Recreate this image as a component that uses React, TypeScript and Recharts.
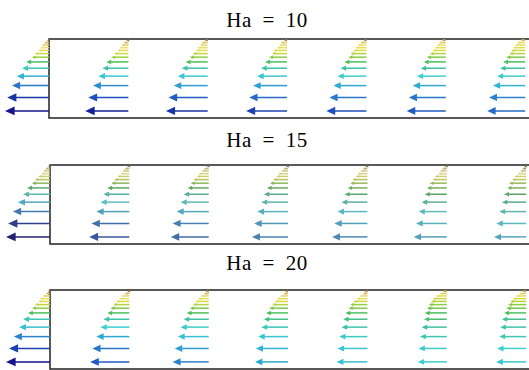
import React from 'react'
import { ScatterChart, Scatter, XAxis, YAxis, ReferenceLine, ReferenceArea } from 'recharts'

const titles = ['Ha = 10', 'Ha = 15', 'Ha = 20']
const columnX = [0, 1, 2, 3, 4, 5, 6]
// row heights across the channel, bottom row first
const rowY = [0.09, 0.26, 0.41, 0.53, 0.63, 0.71, 0.77, 0.815, 0.855, 0.89, 0.925, 0.955, 0.985]

// velocity magnitude (arrows point left), one list per column, bottom row first
const ha10 = [
    [1.00, 0.95, 0.84, 0.73, 0.61, 0.52, 0.39, 0.32, 0.25, 0.20, 0.16, 0.11, 0.05],
    [0.98, 0.91, 0.80, 0.68, 0.59, 0.50, 0.39, 0.32, 0.25, 0.20, 0.16, 0.11, 0.05],
    [0.95, 0.89, 0.77, 0.68, 0.59, 0.50, 0.41, 0.34, 0.27, 0.23, 0.18, 0.14, 0.07],
    [0.93, 0.86, 0.77, 0.68, 0.59, 0.50, 0.41, 0.34, 0.30, 0.23, 0.18, 0.14, 0.07],
    [0.91, 0.84, 0.75, 0.66, 0.59, 0.50, 0.41, 0.36, 0.30, 0.25, 0.20, 0.14, 0.07],
    [0.89, 0.84, 0.75, 0.66, 0.57, 0.50, 0.43, 0.36, 0.30, 0.25, 0.20, 0.16, 0.09],
    [0.86, 0.82, 0.73, 0.64, 0.57, 0.50, 0.43, 0.36, 0.32, 0.27, 0.23, 0.18, 0.11],
]
const ha15 = [
    [1.00, 0.95, 0.84, 0.73, 0.61, 0.52, 0.41, 0.34, 0.27, 0.20, 0.16, 0.11, 0.05],
    [0.91, 0.86, 0.75, 0.66, 0.59, 0.50, 0.41, 0.34, 0.27, 0.20, 0.16, 0.11, 0.05],
    [0.86, 0.82, 0.73, 0.64, 0.57, 0.48, 0.41, 0.34, 0.27, 0.23, 0.16, 0.11, 0.05],
    [0.82, 0.77, 0.70, 0.61, 0.55, 0.48, 0.41, 0.34, 0.27, 0.23, 0.16, 0.11, 0.05],
    [0.80, 0.75, 0.68, 0.59, 0.52, 0.45, 0.39, 0.34, 0.27, 0.23, 0.16, 0.11, 0.05],
    [0.75, 0.70, 0.64, 0.57, 0.50, 0.45, 0.39, 0.32, 0.27, 0.20, 0.16, 0.11, 0.05],
    [0.73, 0.68, 0.61, 0.55, 0.50, 0.43, 0.39, 0.32, 0.27, 0.20, 0.14, 0.09, 0.05],
]
const ha20 = [
    [1.00, 0.93, 0.82, 0.70, 0.61, 0.50, 0.41, 0.34, 0.27, 0.23, 0.16, 0.09, 0.05],
    [0.89, 0.84, 0.75, 0.66, 0.59, 0.50, 0.43, 0.36, 0.30, 0.23, 0.18, 0.11, 0.05],
    [0.82, 0.77, 0.70, 0.64, 0.57, 0.50, 0.43, 0.36, 0.30, 0.25, 0.18, 0.11, 0.07],
    [0.75, 0.73, 0.68, 0.61, 0.55, 0.50, 0.43, 0.36, 0.30, 0.25, 0.18, 0.11, 0.07],
    [0.70, 0.68, 0.64, 0.59, 0.55, 0.50, 0.43, 0.39, 0.32, 0.25, 0.18, 0.11, 0.07],
    [0.66, 0.64, 0.61, 0.57, 0.52, 0.50, 0.45, 0.41, 0.36, 0.32, 0.25, 0.16, 0.09],
    [0.68, 0.66, 0.61, 0.59, 0.55, 0.50, 0.45, 0.41, 0.36, 0.30, 0.23, 0.16, 0.09],
]
const panels = [ha10, ha15, ha20]

const ARROW_SCALE = 0.555 // x units per unit of velocity
const X_MAX = 6.25

// colour by magnitude, big = dark blue, small = brown
const stops: [number, number[]][] = [
    [0.04, [140, 90, 44]],
    [0.11, [212, 189, 102]],
    [0.20, [238, 224, 112]],
    [0.30, [222, 219, 60]],
    [0.39, [156, 207, 60]],
    [0.50, [76, 191, 90]],
    [0.57, [64, 192, 160]],
    [0.66, [60, 207, 208]],
    [0.73, [47, 180, 214]],
    [0.82, [44, 130, 204]],
    [0.91, [30, 80, 192]],
    [1.00, [20, 20, 140]],
]

function colorFor(u: number, muted: number) {
    let c = stops[0][1]
    if (u >= stops[stops.length - 1][0]) c = stops[stops.length - 1][1]
    else {
        for (let i = 1; i < stops.length; i++) {
            if (u <= stops[i][0]) {
                const [a, ca] = stops[i - 1]
                const [b, cb] = stops[i]
                const t = Math.max(0, Math.min(1, (u - a) / (b - a)))
                c = ca.map((v, k) => v + (cb[k] - v) * t)
                break
            }
        }
    }
    const gray = (c[0] + c[1] + c[2]) / 3
    const out = c.map((v) => Math.round(v + (gray - v) * muted))
    return `rgb(${out[0]},${out[1]},${out[2]})`
}

function Arrow(props: any) {
    const { x1, y1, x2, y2, color } = props
    const len = Math.abs(x1 - x2)
    const dir = x2 < x1 ? 1 : -1
    const head = Math.max(3, len * 0.22)
    const hw = head * 0.46
    return (
        <g>
            <line x1={x1} y1={y1} x2={x2 + dir * head * 0.6} y2={y2} stroke={color} strokeWidth={1.5} />
            <polygon
                points={`${x2},${y2} ${x2 + dir * head},${y2 - hw} ${x2 + dir * head},${y2 + hw}`}
                fill={color}
            />
        </g>
    )
}

const layout = [
    { top: 39, left: 49, titleY: 27, muted: 0 },
    { top: 165, left: 50, titleY: 147, muted: 0.35 },
    { top: 290, left: 50, titleY: 270, muted: 0 },
]

function Panel({ idx }: { idx: number }) {
    const cols = panels[idx]
    const L = layout[idx]
    const tails = columnX.flatMap((x) => rowY.map((y) => ({ x, y })))
    return (
        <div style={{ position: 'absolute', left: 0, top: L.top - 10 }}>
            <ScatterChart width={560} height={99} margin={{ top: 10, bottom: 10, left: L.left, right: 560 - L.left - 496 }}>
                <XAxis type="number" dataKey="x" domain={[0, X_MAX]} allowDataOverflow hide />
                <YAxis type="number" dataKey="y" domain={[0, 1]} allowDataOverflow hide />
                <ReferenceArea x1={0} x2={X_MAX} y1={0} y2={1} fill="none" fillOpacity={0} stroke="#222" strokeWidth={1.5} ifOverflow="visible" />
                {cols.map((col, ci) =>
                    col.map((u, ri) => (
                        <ReferenceLine
                            key={`${ci}-${ri}`}
                            ifOverflow="visible"
                            segment={[
                                { x: columnX[ci], y: rowY[ri] },
                                { x: columnX[ci] - u * ARROW_SCALE, y: rowY[ri] },
                            ]}
                            shape={(p: any) => <Arrow {...p} color={colorFor(u, L.muted)} />}
                        />
                    ))
                )}
                <Scatter data={tails} isAnimationActive={false} shape={() => <g />} />
            </ScatterChart>
        </div>
    )
}

export default function App() {
    return (
        <div style={{ position: 'absolute', left: 0, top: 0, width: 529, height: 370, overflow: 'hidden', background: '#fff' }}>
            <svg width={529} height={370} style={{ position: 'absolute', left: 0, top: 0 }}>
                {layout.map((L, i) => (
                    <text
                        key={i}
                        x={267}
                        y={L.titleY}
                        textAnchor="middle"
                        style={{ fontFamily: 'Liberation Serif, Times New Roman, serif', fontSize: 21, wordSpacing: 5, letterSpacing: 0.5 }}
                        fill="#000"
                    >
                        {titles[i]}
                    </text>
                ))}
            </svg>
            {[0, 1, 2].map((i) => (
                <Panel key={i} idx={i} />
            ))}
        </div>
    )
}
